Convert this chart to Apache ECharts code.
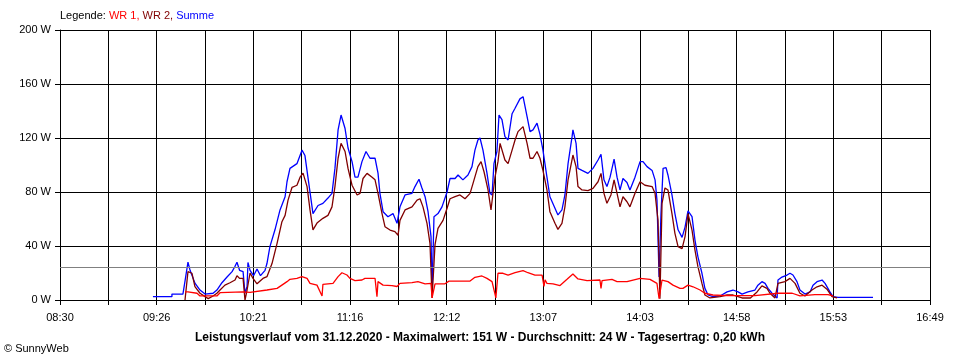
<!DOCTYPE html>
<html>
<head>
<meta charset="utf-8">
<script src="https://cdn.jsdelivr.net/npm/echarts@6/dist/echarts.min.js"></script>
<style>html,body{margin:0;padding:0;background:#fff}#c{width:960px;height:360px}</style>
</head>
<body>
<div id="c"></div>
<script>
// x values: minutes after 08:30; y values: W
const xTickLabels = ['08:30','09:26','10:21','11:16','12:12','13:07','14:03','14:58','15:53','16:49'];
const xSpanMinutes = 499;   // 08:30 .. 16:49
const xDivisions = 18;
const yTicks = [0, 40, 80, 120, 160, 200];
const avgWatt = 24;
const titleText = 'Leistungsverlauf vom 31.12.2020 - Maximalwert: 151 W - Durchschnitt: 24 W - Tagesertrag: 0,20 kWh';

const summe = [
[53.3,2.5],[64.2,2.5],[64.2,4.4],[70.5,4.4],[70.5,5.4],[71.7,14],[73.4,28],[74.6,22],[77.4,12.5],[80.3,7.4],[83.2,4.4],[87.8,5],[90.0,7.4],[92.9,12.8],[95.8,17],[98.7,21],[100.4,25],[101.5,28],[103,22],[105.0,21],[106.1,5],[107.3,10],[107.8,27.8],[109.0,22],[111,18],[113,23],[115,18],[117.6,22],[118.7,27],[120.4,39.5],[123.3,52],[126.2,66.7],[129.1,76.5],[130.2,87.6],[131.9,97.5],[135.9,101],[138.8,111],[140.5,107],[142.2,91],[145.1,64],[148.0,70],[150.8,71.6],[153.7,75.5],[156.0,79],[157.7,97.5],[159.5,126],[161.2,137],[163.5,127],[165.2,112.6],[167.5,102.5],[169.2,91],[170.9,91],[173.2,102.5],[175.5,110],[177.8,105],[180.7,105],[182.4,94],[183.5,79],[185.3,65.4],[188.1,61.7],[191.0,64],[193.3,56.8],[195.0,69],[197.9,77.8],[201.9,79],[203.6,84],[205.9,89.4],[207.6,83],[209.4,76.5],[211.1,65.4],[212.8,47],[213.4,5],[214.5,61.7],[216.8,64],[219.1,69],[222.0,80],[223.7,90],[226.6,90],[228.3,92.6],[231.1,89],[234.0,92.6],[236.3,98.8],[238.0,111],[239.7,118.5],[240.9,120],[242.6,111],[244.9,94],[246.6,79],[247.8,77.8],[248.9,101],[250.6,110],[251.8,137],[253.5,133.6],[255.2,121],[257.0,118.5],[259.3,138],[261.0,142],[263.8,149],[265.6,150.6],[267.9,135.8],[269.6,124.7],[271.3,126],[273.6,131],[275.3,122.7],[277.0,111],[279.3,91],[281.0,76.5],[283.9,68],[285.6,63],[287.9,66.7],[289.6,77.8],[291.4,101],[293.7,121],[294.2,126],[296.0,116],[297.1,97.5],[299.4,96],[302.8,93.8],[305.7,97.5],[308.6,103.7],[310.3,108],[312.0,89],[313.7,84],[315.5,91],[317.8,104.4],[319.5,91],[321.2,81.5],[322.9,90],[325.2,87],[326.9,81.5],[329.8,91],[332.7,102.5],[334.4,102.5],[336.7,98.8],[339.6,96],[341.3,89],[342.4,74],[343.6,17],[344.7,64],[345.9,97.5],[347.6,98],[348.7,92.6],[351.0,77.8],[352.7,64],[354.5,52],[356.8,46.4],[358.5,54],[360.2,66],[362.5,61.7],[364.2,44.4],[365.9,32],[368.2,19.8],[369.9,8.6],[371.7,3.7],[374.5,2.5],[378.6,3],[382.6,6],[386.0,7.4],[388.9,6],[391.2,4.4],[394.6,6],[398.6,7.4],[400.3,11],[402.6,13.6],[404.4,12.3],[406.1,8.6],[408.4,5],[411.3,1.5],[411.8,14.8],[414.1,17],[417.0,18.5],[418.7,19.8],[420.4,18.5],[422.7,13.6],[424.4,7.4],[427.3,4.4],[430.2,6],[431.9,11],[434.2,13.6],[437.1,14.8],[438.8,12.3],[441.6,6],[443.4,2.5],[446.2,2],[466.3,2]
];

const wr2 = [
[71.7,0],[73.4,21],[75.7,19.8],[77.4,9.9],[80.3,5],[83.2,2.5],[85,1],[87.8,3],[90.0,5],[91.8,7.4],[94.6,11],[97.5,12.8],[100.4,14.8],[101.5,18],[103,16],[105.0,16],[106.1,0],[107.3,7.4],[109.0,20],[110.7,16],[113,12],[116.4,16],[118.7,17.3],[121.6,27],[124.5,42],[127.3,58],[129.1,62.7],[130.8,74],[133.1,83.5],[135.9,85],[137.7,91],[139.4,94],[141.7,84],[143.4,66.7],[145.1,52],[147.4,57],[150.8,60.5],[153.7,62.7],[156.0,69],[157.7,84],[159.5,105],[161.2,116],[163.5,110],[165.2,97.5],[167.5,85],[170.4,77.8],[172.1,79],[173.8,90],[176.1,93.8],[179.0,91],[180.7,89],[182.4,79],[184.7,64],[186.4,54.3],[189.3,51.8],[192.1,50.6],[193.9,48],[195.0,59],[197.9,66.7],[201.9,69],[204.8,74],[206.5,75],[208.2,69],[210.5,56.8],[212.2,42],[213.4,1.5],[215.1,41],[216.8,53],[219.7,59],[222.0,68],[223.7,75],[226.6,76.5],[229.4,77.8],[232.3,75],[235.2,79],[236.9,86.4],[239.7,98.8],[241.5,102.5],[243.2,95],[245.5,81.5],[247.2,66.7],[247.8,65.4],[249.5,91],[251.2,102.5],[252.4,116],[253.5,115],[255.2,103.7],[257.0,101],[259.3,111],[261.0,118.5],[262.7,124.7],[265.6,128.4],[267.9,116],[269.6,105],[271.3,105],[273.6,110],[275.3,105],[277.0,96],[279.3,81.5],[281.0,65.4],[283.9,56.8],[285.6,52.3],[287.9,56.8],[289.6,69],[291.4,89],[294.2,107.4],[296.0,98.8],[297.1,84],[299.4,81.5],[302.8,81],[305.7,82.7],[308.6,87.6],[310.3,93.8],[312.0,79],[313.7,71.6],[316.0,77.8],[317.8,89],[319.5,79],[321.2,69],[322.9,76.5],[325.2,72.8],[326.9,69],[329.8,79],[332.7,87.6],[335.5,85],[339.6,84],[341.3,79],[343.0,59],[344.1,1],[345.3,71.6],[347.0,83],[348.7,81.5],[351.0,64],[352.7,49.4],[354.5,39.5],[356.8,38],[358.5,47],[360.2,64],[362.5,51.8],[364.2,37],[365.9,24.7],[368.2,12.3],[369.9,3.7],[372.8,1.5],[378.6,2.5],[382.6,3.7],[386.0,3.7],[388.9,2.5],[391.2,1.5],[396,1.5],[399.8,6],[402.6,10.4],[405.5,8.6],[407.2,5],[410.1,1.5],[411.8,12.3],[415.8,13.6],[418.7,16],[421.6,12.3],[424.4,5],[427.3,3],[431.3,7.4],[434.2,9.8],[437.1,11],[439.9,8],[442.8,2.5],[445.7,1.5]
];

const wr1 = [
[71.7,6],[73.4,6],[78.6,5],[80.3,3],[90.0,3],[91.8,5.4],[105.0,6],[109.0,5.7],[118.7,7.4],[124.5,8.6],[127.9,11.6],[130.2,13.6],[131.9,15.3],[135.9,16],[138.8,17.3],[141.7,16],[143.4,12.3],[147.4,11],[150.3,3],[150.8,11.6],[156.6,12.3],[159.5,17.3],[161.7,20.2],[164.6,18.5],[166.3,16],[169.2,14.3],[173.2,14.8],[174.9,16],[180.7,16],[181.8,2.5],[182.4,13.6],[185.3,11],[190.4,10.7],[193.3,10],[195.0,12.3],[201.9,12.8],[205.3,13.6],[209.4,12],[212.8,12.3],[213.4,1.5],[215.1,12],[220.8,12],[223.1,14],[235.2,14],[238.0,16.8],[242.0,17.8],[244.9,16],[247.8,13.6],[250.0,1.5],[251.2,19.8],[254.1,19.8],[257.0,18.5],[261.0,20.2],[265.6,21.7],[268.4,20.2],[272.4,18.5],[276.5,18.5],[277.6,10],[278.2,15],[279.3,12.3],[282.8,12],[286.8,10.7],[290.8,15.3],[294.2,19.3],[297.1,15.6],[302.3,14.3],[309.7,14.8],[310.3,8.6],[310.9,14.3],[316.6,15.3],[319.5,13.6],[325.2,13.6],[328.7,14.8],[332.7,16],[338.4,15.3],[342.4,12.3],[343.6,1],[344.1,5],[345.3,14.8],[348.7,13.6],[351.6,11],[355.6,8.6],[357.3,8.6],[360.2,11],[363.1,9.8],[367.1,7.4],[369.9,5],[374.5,3.7],[382.6,3.2],[388.9,3.2],[398.6,3.2],[411.8,5],[420,5],[424.4,3],[433.0,4],[440.5,4],[443.4,3]
];

const xStep = xSpanMinutes / xDivisions;
const FONT = 'Liberation Sans';
const LW = 1.3;

const chart = echarts.init(document.getElementById('c'), null, {renderer: 'canvas'});
chart.setOption({
  animation: false,
  backgroundColor: '#ffffff',
  textStyle: {fontFamily: FONT},
  title: [
    {
      left: 60, top: 10, padding: 0,
      text: '{k|Legende: }{a|WR 1, }{b|WR 2, }{c|Summe}',
      textStyle: {
        fontWeight: 'normal', fontSize: 11,
        rich: {
          k: {color: '#000000', fontSize: 11, fontWeight: 'normal', fontFamily: FONT},
          a: {color: '#ff0000', fontSize: 11, fontWeight: 'normal', fontFamily: FONT},
          b: {color: '#800000', fontSize: 11, fontWeight: 'normal', fontFamily: FONT},
          c: {color: '#0000ff', fontSize: 11, fontWeight: 'normal', fontFamily: FONT}
        }
      }
    },
    {
      left: 'center', top: 331, padding: 0,
      text: titleText,
      textStyle: {color: '#000000', fontSize: 12, fontWeight: 'bold', fontFamily: FONT, lineHeight: 13}
    },
    {
      left: 4, top: 343, padding: 0,
      text: '\u00A9 SunnyWeb',
      textStyle: {color: '#000000', fontSize: 11, fontWeight: 'normal', fontFamily: FONT, lineHeight: 12}
    }
  ],
  grid: {left: 60, right: 30, top: 30, bottom: 60, containLabel: false},
  xAxis: {
    type: 'value', min: 0, max: xSpanMinutes, interval: xStep,
    axisLine: {show: true, lineStyle: {color: '#000', width: 1}},
    axisTick: {show: true, length: 5, lineStyle: {color: '#000', width: 1}},
    splitLine: {show: true, lineStyle: {color: '#000', width: 1}},
    axisLabel: {
      color: '#000', fontSize: 11, fontFamily: FONT, margin: 12,
      showMinLabel: true, showMaxLabel: true,
      formatter: function (v) {
        const i = Math.round(v / xStep);
        return (i % 2 === 0) ? (xTickLabels[i / 2] || '') : '';
      }
    }
  },
  yAxis: {
    type: 'value', min: yTicks[0], max: yTicks[yTicks.length - 1], interval: yTicks[1] - yTicks[0],
    axisLine: {show: true, lineStyle: {color: '#000', width: 1}},
    axisTick: {show: true, length: 5, lineStyle: {color: '#000', width: 1}},
    splitLine: {show: true, lineStyle: {color: '#000', width: 1}},
    axisLabel: {color: '#000', fontSize: 11, fontFamily: FONT, margin: 9, formatter: '{value} W'}
  },
  series: [
    {
      name: 'Summe', type: 'line', data: summe, showSymbol: false, symbol: 'none',
      lineStyle: {color: '#0000ff', width: LW}, itemStyle: {color: '#0000ff'}, silent: true,
      markLine: {
        silent: true, symbol: 'none', animation: false,
        label: {show: false},
        lineStyle: {color: '#808080', type: 'solid', width: 1},
        data: [{yAxis: avgWatt}]
      }
    },
    {
      name: 'WR 2', type: 'line', data: wr2, showSymbol: false, symbol: 'none',
      lineStyle: {color: '#800000', width: LW}, itemStyle: {color: '#800000'}, silent: true
    },
    {
      name: 'WR 1', type: 'line', data: wr1, showSymbol: false, symbol: 'none',
      lineStyle: {color: '#ff0000', width: LW}, itemStyle: {color: '#ff0000'}, silent: true
    }
  ]
});
</script>
</body>
</html>
